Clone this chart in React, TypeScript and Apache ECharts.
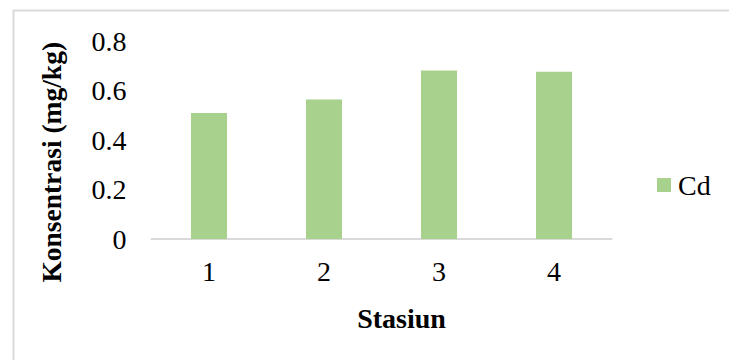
import React, { useEffect, useRef } from "react";
import * as echarts from "echarts";

const stations = ["1", "2", "3", "4"];
const cdValues = [0.51, 0.565, 0.683, 0.677];
const yTicks = { min: 0, max: 0.8, interval: 0.2 };

const SERIF = "Liberation Serif";
const BAR_GREEN = "#a9d18e";
const FRAME_GRAY = "#d9d9d9";

export default function App() {
  const ref = useRef<HTMLDivElement>(null);

  useEffect(() => {
    if (!ref.current) return;
    const chart = echarts.init(ref.current, undefined, { renderer: "svg" });
    chart.setOption({
      animation: false,
      backgroundColor: "#ffffff",
      textStyle: { fontFamily: SERIF, color: "#000" },
      graphic: [
        {
          type: "rect",
          left: 11,
          top: 8,
          shape: { x: 0, y: 0, width: 760, height: 400 },
          style: { fill: "none", stroke: FRAME_GRAY, lineWidth: 2 },
          silent: true,
          z: -1,
        },
      ],
      grid: { left: 151.5, right: 117.5, top: 41.5, bottom: 121 },
      legend: {
        data: ["Cd"],
        left: 657,
        top: 171,
        padding: 0,
        icon: "rect",
        itemWidth: 14,
        itemHeight: 14,
        itemGap: 0,
        textStyle: { fontFamily: SERIF, fontSize: 28, color: "#000", padding: [0, 0, 0, 2] },
      },
      xAxis: {
        type: "category",
        data: stations,
        name: "Stasiun",
        nameLocation: "middle",
        nameGap: 65,
        nameTextStyle: {
          fontFamily: SERIF,
          fontSize: 28,
          fontWeight: "bold",
          color: "#000",
          padding: [0, 0, 0, 40],
        },
        axisLine: { show: true, lineStyle: { color: FRAME_GRAY, width: 2 } },
        axisTick: { show: false },
        axisLabel: { fontFamily: SERIF, fontSize: 28, color: "#000", margin: 18 },
      },
      yAxis: {
        type: "value",
        min: yTicks.min,
        max: yTicks.max,
        interval: yTicks.interval,
        name: "Konsentrasi (mg/kg)",
        nameLocation: "middle",
        nameGap: 86,
        nameTextStyle: {
          fontFamily: SERIF,
          fontSize: 27.5,
          fontWeight: "bold",
          color: "#000",
          padding: [0, 44, 0, 0],
        },
        axisLine: { show: false },
        axisTick: { show: false },
        splitLine: { show: false },
        axisLabel: {
          fontFamily: SERIF,
          fontSize: 28,
          color: "#000",
          margin: 25,
          formatter: (v: number) => (v === 0 ? "0" : v.toFixed(1)),
        },
      },
      series: [
        {
          name: "Cd",
          type: "bar",
          data: cdValues,
          barWidth: 36,
          itemStyle: { color: BAR_GREEN },
        },
      ],
    });
    return () => chart.dispose();
  }, []);

  return (
    <div
      ref={ref}
      style={{ position: "fixed", left: 0, top: 0, width: 729, height: 360 }}
    />
  );
}
